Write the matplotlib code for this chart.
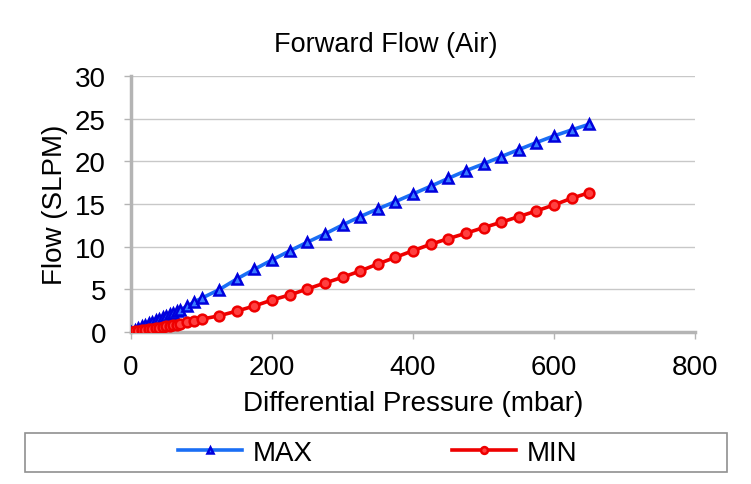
import matplotlib
matplotlib.use("Agg")
import matplotlib.pyplot as plt
from matplotlib.patches import Rectangle

plt.rcParams['font.family'] = ['Liberation Sans', 'DejaVu Sans']

# Data
pressure = [0, 5, 10, 15, 20, 25, 30, 35, 40, 45, 50, 55, 60, 65, 70, 80, 90, 100,
            125, 150, 175, 200, 225, 250, 275, 300, 325, 350, 375, 400, 425, 450,
            475, 500, 525, 550, 575, 600, 625, 650]
max_flow = [0, 0.25, 0.45, 0.65, 0.85, 1.05, 1.22, 1.4, 1.58, 1.75, 1.92, 2.1, 2.27,
            2.43, 2.6, 3.05, 3.55, 3.95, 4.96, 6.21, 7.35, 8.44, 9.50, 10.52, 11.49,
            12.54, 13.52, 14.42, 15.28, 16.18, 17.08, 18.0, 18.9, 19.7, 20.55, 21.37,
            22.2, 22.98, 23.68, 24.35]
min_flow = [0, 0.06, 0.12, 0.18, 0.25, 0.31, 0.38, 0.45, 0.52, 0.59, 0.66, 0.73, 0.8,
            0.87, 0.95, 1.12, 1.3, 1.5, 1.9, 2.45, 3.05, 3.75, 4.34, 5.04, 5.74, 6.41,
            7.15, 7.97, 8.75, 9.53, 10.28, 10.94, 11.57, 12.23, 12.86, 13.52, 14.19,
            14.89, 15.67, 16.33]
x_ticks = [0, 200, 400, 600, 800]
y_ticks = [0, 5, 10, 15, 20, 25, 30]

W, H = 751, 485
fig = plt.figure(figsize=(W / 100, H / 100), dpi=100)
ax = fig.add_axes([131 / W, (H - 333) / H, 564 / W, 256 / H])

l1, = ax.plot(pressure, max_flow, color='#1a6ef5', lw=2.6, marker='^', ms=7,
              mfc='#3a7cff', mec='#0000dd', mew=1.8, zorder=3, label='MAX')
l2, = ax.plot(pressure, min_flow, color='#ee0000', lw=2.6, marker='o', ms=7,
              mfc='#ff4040', mec='#ee0000', mew=1.8, zorder=3, label='MIN')

ax.set_xlim(0, 800)
ax.set_ylim(0, 30)
ax.set_xticks(x_ticks)
ax.set_yticks(y_ticks)
ax.grid(axis='y', color='#c8c8c8', lw=1.0)
ax.set_axisbelow(True)
for s in ['top', 'right']:
    ax.spines[s].set_visible(False)
for s in ['left', 'bottom']:
    ax.spines[s].set_color('#b4b4b4')
    ax.spines[s].set_linewidth(2.5)
ax.tick_params(axis='both', labelsize=20, colors='#b4b4b4', labelcolor='black',
               length=5, width=1)
ax.tick_params(axis='y', pad=13)
ax.tick_params(axis='x', pad=11)

ax.set_xlabel('Differential Pressure (mbar)', fontsize=20, labelpad=7)
ax.set_ylabel('Flow (SLPM)', fontsize=20, labelpad=5)
fig.text(386 / W, 1 - 45 / H, 'Forward Flow (Air)', fontsize=19.5, ha='center', va='center')

# Legend box
fig.patches.append(Rectangle((25 / W, 1 - 473 / H), 702 / W, 39 / H,
                             transform=fig.transFigure, fill=False,
                             edgecolor='#909090', lw=1.2))
fig.legend(handles=[l1, l2], loc='center', bbox_to_anchor=(378 / W, 1 - 454 / H),
           ncol=2, frameon=False, fontsize=20, handlelength=2.3,
           columnspacing=5.0, handletextpad=0.4, markerscale=0.7)

fig.savefig('out.png', dpi=100)
